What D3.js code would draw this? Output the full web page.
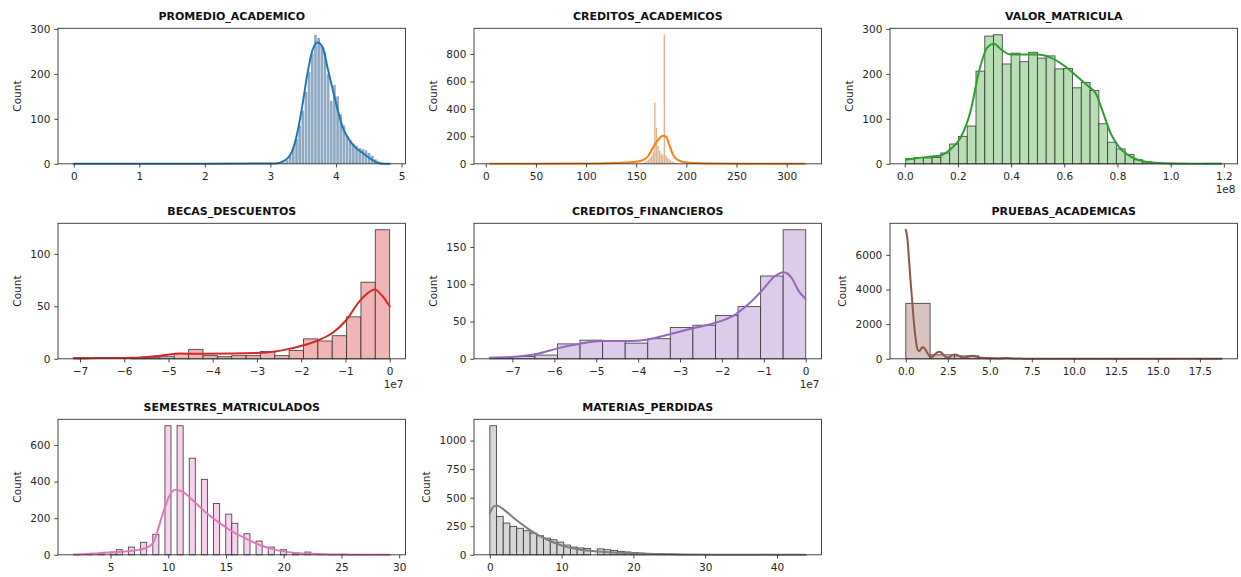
<!DOCTYPE html>
<html><head><meta charset="utf-8">
<script src="https://cdn.jsdelivr.net/npm/d3@7"></script>
<style>
body{margin:0;background:#fff}
text{font-family:"DejaVu Sans",sans-serif}
</style>
</head><body>
<svg id="c" width="1241" height="577"></svg>
<script>
// ---------------- DATA ----------------
const titles = ["PROMEDIO_ACADEMICO","CREDITOS_ACADEMICOS","VALOR_MATRICULA","BECAS_DESCUENTOS",
                "CREDITOS_FINANCIEROS","PRUEBAS_ACADEMICAS","SEMESTRES_MATRICULADOS","MATERIAS_PERDIDAS"];
const lineColors = ["#1f77b4","#ff7f0e","#2ca02c","#d62728","#9467bd","#8c564b","#e377c2","#7f7f7f"];
const barFills   = ["#8ea9c1","#dcb590","#b8dfb4","#f1b5b6","#dccbe9","#d8c3be","#f6d2ec","#d6d6d6"];

// 1 PROMEDIO_ACADEMICO
const promExtent = [0, 4.82], promBinWidth = 0.0482, promFirstBin = 66;
const promCounts = [3,8,18,35,55,85,118,160,205,245,287,280,262,248,200,140,175,150,110,85,62,52,45,40,35,33,30,24,18,10,5,3,1,1];
const promKdeX = [0,1,2,3,3.13,3.2,3.29,3.35,3.42,3.49,3.57,3.64,3.72,3.8,3.87,3.95,4.03,4.1,4.2,4.3,4.41,4.51,4.61,4.68,4.82];
const promKdeY = [0.3,0.3,0.3,0.5,2,6,17,35,75,132,205,252,270,258,215,165,118,82,54,36,24,13,4,0.8,0.1];
const promXTicks = [0,1,2,3,4,5], promYTicks = [0,100,200,300];

// 2 CREDITOS_ACADEMICOS
const credAExtent = [4, 319], credABinWidth = 1.575, credAFirstBin = 94;
const credACounts = [4,6,8,10,15,22,30,42,58,85,445,262,130,95,75,65,940,60,45,35,25,18,12,9,6,4,3,2,2,1,1];
const credAKdeX = [4,50,95,120,135,145,155,161.7,166.7,171.6,176.5,179.5,183.2,186.5,191.4,198,211,228,260,318];
const credAKdeY = [0.5,1,2,4,8,12,22,55,118,172,205,200,135,68,28,12,5,2,0.8,0.3];
const credAXTicks = [0,50,100,150,200,250,300], credAYTicks = [0,200,400,600,800];

// 3 VALOR_MATRICULA (x 1e8)
const valExtent = [0.004, 1.192], valBinWidth = 0.033, valFirstBin = 0;
const valCounts = [12,14,13,14,24,44,61,84,206,284,287,222,246,227,248,235,240,211,212,169,181,163,89,48,33,21,9,4,2,1,1,1,0,0,1,1];
const valKdeX = [0.004,0.05,0.098,0.135,0.173,0.211,0.248,0.28,0.311,0.336,0.361,0.399,0.449,0.499,0.549,0.6,0.65,0.687,0.719,0.75,0.775,0.806,0.85,0.913,0.976,1.1,1.19];
const valKdeY = [9,13,16,18.5,33,59,118,207,259,267,255,243,243,243,236,218,193,174,156,107,67,37,16,4,1.5,0.3,0.1];
const valXTicks = [0,0.2,0.4,0.6,0.8,1.0,1.2], valYTicks = [0,100,200,300];

// 4 BECAS_DESCUENTOS (x 1e7)
const becasExtent = [-7.14, 0], becasBinWidth = 0.3245, becasFirstBin = 0;
const becasCounts = [1,0,0,0,1,1,2,5,9,3,2,3,3,7,3,8,19,17,22,40,73,123];
const becasKdeX = [-7.14,-6.5,-5.8,-5.19,-4.74,-4.29,-3.54,-2.79,-2.33,-2.03,-1.65,-1.28,-0.98,-0.68,-0.45,-0.34,-0.19,0];
const becasKdeY = [0.5,0.7,1,3,5,4.8,5,6,9,12,17,25,37,55,64,66,61,50];
const becasXTicks = [-7,-6,-5,-4,-3,-2,-1,0], becasYTicks = [0,50,100];

// 5 CREDITOS_FINANCIEROS (x 1e7)
const credFExtent = [-7.54, 0], credFBinWidth = 0.5386, credFFirstBin = 0;
const credFCounts = [1,3,5,20,25,24,21,27,42,45,58,70,111,173];
const credFKdeX = [-7.54,-6.96,-6.4,-5.92,-5.36,-4.88,-4.24,-3.76,-3.2,-2.65,-2.17,-1.69,-1.37,-1.05,-0.73,-0.53,-0.33,-0.17,0];
const credFKdeY = [1.5,2.7,6.7,14,20.5,23.7,23.7,26,33.5,41.5,48,59,73,91,111,116,108,91,80];
const credFXTicks = [-7,-6,-5,-4,-3,-2,-1,0], credFYTicks = [0,50,100,150];

// 6 PRUEBAS_ACADEMICAS
const pruebExtent = [0, 18.8], pruebBinWidth = 18.8/13, pruebFirstBin = 0;
const pruebCounts = [3200,230,170,40,20,8,6,3,2,1,1,0,1];
const pruebKdeX = [0,0.1,0.2,0.3,0.4,0.5,0.6,0.7,0.8,0.9,1.0,1.1,1.2,1.3,1.4,1.5,1.6,1.7,1.8,1.9,2.0,2.1,2.2,2.3,2.4,2.5,2.6,2.7,2.8,2.9,3.0,3.2,3.4,3.6,3.8,4.0,4.2,4.4,4.6,5.0,5.5,6.0,6.5,7,8,10,12,15,18.8];
const pruebKdeY = [7450,6900,5600,4300,3100,1900,1050,530,440,560,660,620,480,300,160,100,130,220,320,380,400,370,280,170,90,60,90,170,230,250,240,150,60,90,150,170,130,70,40,30,20,40,15,10,5,3,2,1,0.5];
const pruebXTicks = [0,2.5,5,7.5,10,12.5,15,17.5], pruebYTicks = [0,2000,4000,6000];

// 7 SEMESTRES_MATRICULADOS
const semExtent = [1.816, 29.18], semBinWidth = 0.5263, semNumBins = 52;
const semValues = [2,3,4,5,6,7,8,9,10,11,12,13,14,15,16,17,18,19,20,21,22,23,24,25,26,27,28,29];
const semCounts = [1,3,8,15,28,42,68,112,705,705,528,412,280,222,172,115,75,42,28,8,15,3,2,3,1,1,0,1];
const semKdeX = [1.816,2.9,3.98,6.3,7.75,8.32,8.76,9.19,9.63,10.06,10.64,11.22,12.09,13.25,14.4,15.57,16.72,17.88,19.04,20.2,21.35,22.8,24.25,27.1,29.18];
const semKdeY = [1,4,9,18,31,45,73,155,245,318,355,345,300,231,176,127,89,55,31,16,9,5,2,0.5,0.3];
const semXTicks = [5,10,15,20,25,30], semYTicks = [0,200,400,600];

// 8 MATERIAS_PERDIDAS
const matExtent = [0, 44], matBinWidth = 44/47, matNumBins = 47;
const matValues = d3.range(0, 45);
const matCounts = [1130,336,278,249,232,211,190,167,146,132,111,85,68,60,55,52,45,38,30,25,20,15,12,10,8,6,5,4,3,3,2,2,1,1,1,1,1,1,0,1,0,1,0,0,1];
const matKdeX = [0,0.56,1.02,1.95,3.34,5.2,7.06,8.9,10.77,12.6,15,17.3,19.6,22,26.6,31.2,44];
const matKdeY = [365,424,430,395,322,234,161,108,67,44,29,20,15,9,3,1,0];
const matXTicks = [0,10,20,30,40], matYTicks = [0,250,500,750,1000];

// ---------------- HELPERS ----------------
function regularBins(extent, w, first, counts){
  return counts.map((c,j)=>({x0: extent[0]+(first+j)*w, x1: extent[0]+(first+j+1)*w, count:c}));
}
function valueBins(extent, w, n, values, counts){
  const arr = d3.range(n).map(k=>({x0: extent[0]+k*w, x1: extent[0]+(k+1)*w, count:0}));
  values.forEach((v,i)=>{
    const k = Math.min(n-1, Math.floor((v-extent[0])/w + 1e-9));
    arr[k].count += counts[i];
  });
  return arr;
}
const fmtInt = d3.format("d"), fmt1 = d3.format(".1f");

const panels = [
  {extent:promExtent, bins:regularBins(promExtent,promBinWidth,promFirstBin,promCounts), kx:promKdeX, ky:promKdeY, xt:promXTicks, yt:promYTicks, xf:fmtInt, fine:0.5},
  {extent:credAExtent, bins:regularBins(credAExtent,credABinWidth,credAFirstBin,credACounts), kx:credAKdeX, ky:credAKdeY, xt:credAXTicks, yt:credAYTicks, xf:fmtInt, fine:0.2},
  {extent:valExtent, bins:regularBins(valExtent,valBinWidth,valFirstBin,valCounts), kx:valKdeX, ky:valKdeY, xt:valXTicks, yt:valYTicks, xf:fmt1, offset:"1e8"},
  {extent:becasExtent, bins:regularBins(becasExtent,becasBinWidth,becasFirstBin,becasCounts), kx:becasKdeX, ky:becasKdeY, xt:becasXTicks, yt:becasYTicks, xf:fmtInt, offset:"1e7"},
  {extent:credFExtent, bins:regularBins(credFExtent,credFBinWidth,credFFirstBin,credFCounts), kx:credFKdeX, ky:credFKdeY, xt:credFXTicks, yt:credFYTicks, xf:fmtInt, offset:"1e7"},
  {extent:pruebExtent, bins:regularBins(pruebExtent,pruebBinWidth,pruebFirstBin,pruebCounts), kx:pruebKdeX, ky:pruebKdeY, xt:pruebXTicks, yt:pruebYTicks, xf:fmt1},
  {extent:semExtent, bins:valueBins(semExtent,semBinWidth,semNumBins,semValues,semCounts), kx:semKdeX, ky:semKdeY, xt:semXTicks, yt:semYTicks, xf:fmtInt},
  {extent:matExtent, bins:valueBins(matExtent,matBinWidth,matNumBins,matValues,matCounts), kx:matKdeX, ky:matKdeY, xt:matXTicks, yt:matYTicks, xf:fmtInt}
];

// ---------------- LAYOUT ----------------
const svg = d3.select("#c");
const colLeft = [58, 474, 890], colWidth = 347.5;
const rowTop = [28.3, 223.3, 419.3], rowHeight = 135.5;

panels.forEach((p, i) => {
  const r = Math.floor(i/3), c = i%3;
  const g = svg.append("g").attr("transform", `translate(${colLeft[c]},${rowTop[r]})`);
  const [mn, mx] = p.extent, R = mx - mn;
  const x = d3.scaleLinear().domain([mn-0.05*R, mx+0.05*R]).range([0, colWidth]);
  const ymax = Math.max(d3.max(p.bins, d=>d.count), d3.max(p.ky)) * 1.05;
  const y = d3.scaleLinear().domain([0, ymax]).range([rowHeight, 0]);

  // bars
  const gap = p.fine || 0;
  const bars = p.fine ? p.bins.filter(d=>d.count>0) : p.bins;
  g.append("g").selectAll("rect").data(bars).join("rect")
    .attr("x", d => x(d.x0) + gap/2)
    .attr("width", d => Math.max(0.3, x(d.x1) - x(d.x0) - gap))
    .attr("y", d => y(d.count))
    .attr("height", d => y(0) - y(d.count))
    .attr("fill", barFills[i])
    .attr("stroke", p.fine ? "none" : "#2e2e2e")
    .attr("stroke-width", 0.9)
    .attr("stroke-opacity", 0.85);

  // kde line
  const pts = p.kx.map((v,j)=>[v, p.ky[j]]);
  g.append("path").datum(pts)
    .attr("fill","none").attr("stroke", lineColors[i]).attr("stroke-width", 2)
    .attr("stroke-linejoin","round").attr("stroke-linecap","round")
    .attr("d", d3.line().x(d=>x(d[0])).y(d=>y(d[1])).curve(d3.curveMonotoneX));

  // axes
  const ax = g.append("g").attr("transform", `translate(0,${rowHeight})`)
    .call(d3.axisBottom(x).tickValues(p.xt).tickFormat(p.xf).tickSize(3.7).tickPadding(5.5));
  const ay = g.append("g")
    .call(d3.axisLeft(y).tickValues(p.yt).tickFormat(fmtInt).tickSize(3.7).tickPadding(4));
  [ax, ay].forEach(a => {
    a.select(".domain").remove();
    a.selectAll("line").attr("stroke", "#333").attr("stroke-width", 0.9);
    a.selectAll("text").attr("fill", "#262626").style("font-size", "10.5px")
      .style("font-family", '"DejaVu Sans", sans-serif');
  });

  // frame
  g.append("rect").attr("x",0).attr("y",0).attr("width",colWidth).attr("height",rowHeight)
    .attr("fill","none").attr("stroke","#333").attr("stroke-width",0.9);

  // title
  g.append("text").attr("x", colWidth/2).attr("y", -8).attr("text-anchor","middle")
    .style("font-size","11px").style("font-weight","bold").attr("fill","#111")
    .text(titles[i]);

  // y label placed left of the widest tick label
  let minX = 0;
  ay.selectAll("text").each(function(){ minX = Math.min(minX, this.getBBox().x); });
  const lx = minX - 9.5;
  g.append("text").attr("transform", `translate(${lx},${rowHeight/2}) rotate(-90)`)
    .attr("text-anchor","middle").style("font-size","10.5px").attr("fill","#262626").text("Count");

  // offset text
  if (p.offset) {
    g.append("text").attr("x", colWidth - 2).attr("y", rowHeight + 29).attr("text-anchor","end")
      .style("font-size","10.5px").attr("fill","#262626").text(p.offset);
  }
});
</script>
</body></html>
